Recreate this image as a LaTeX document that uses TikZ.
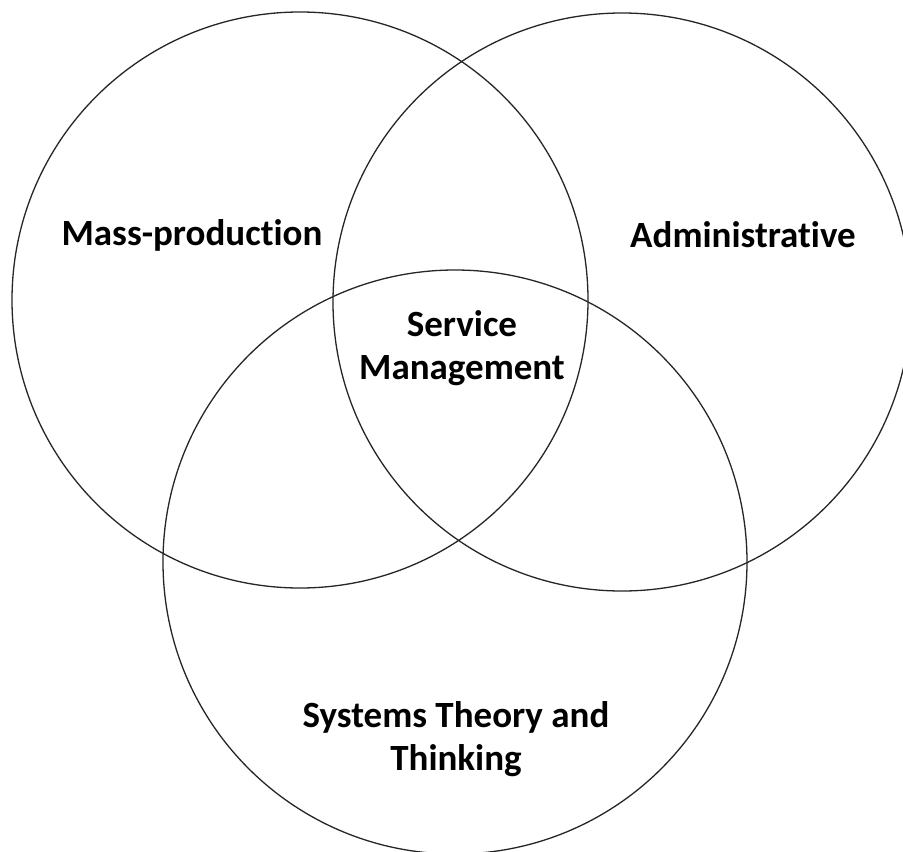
\documentclass[tikz,border=0pt]{standalone}
\usepackage{fontspec}
\setmainfont[Ligatures=NoCommon]{Carlito}
\begin{document}
\begin{tikzpicture}[x=1pt,y=-1pt,
  ring/.style={draw=black!85,line width=1.3pt},
  lbl/.style={font=\fontsize{37}{43}\selectfont\bfseries,align=center,inner sep=0pt}]
\useasboundingbox (0,0) rectangle (903,852);
\clip (0,0) rectangle (903,852);
\fill[white] (0,0) rectangle (903,852);
\draw[ring] (300,300) circle[radius=288];
\draw[ring] (622,302) circle[radius=289];
\draw[ring] (455,562) circle[radius=292];
\node[lbl] (mass) at (192,235) {Mass-production};
\node[lbl] (admin) at (743,235) {Administrative};
\node[lbl] (serv) at (462,348) {Service\\Management};
\node[lbl] (sys) at (456,739) {Systems Theory and\\Thinking};
\end{tikzpicture}
\end{document}
